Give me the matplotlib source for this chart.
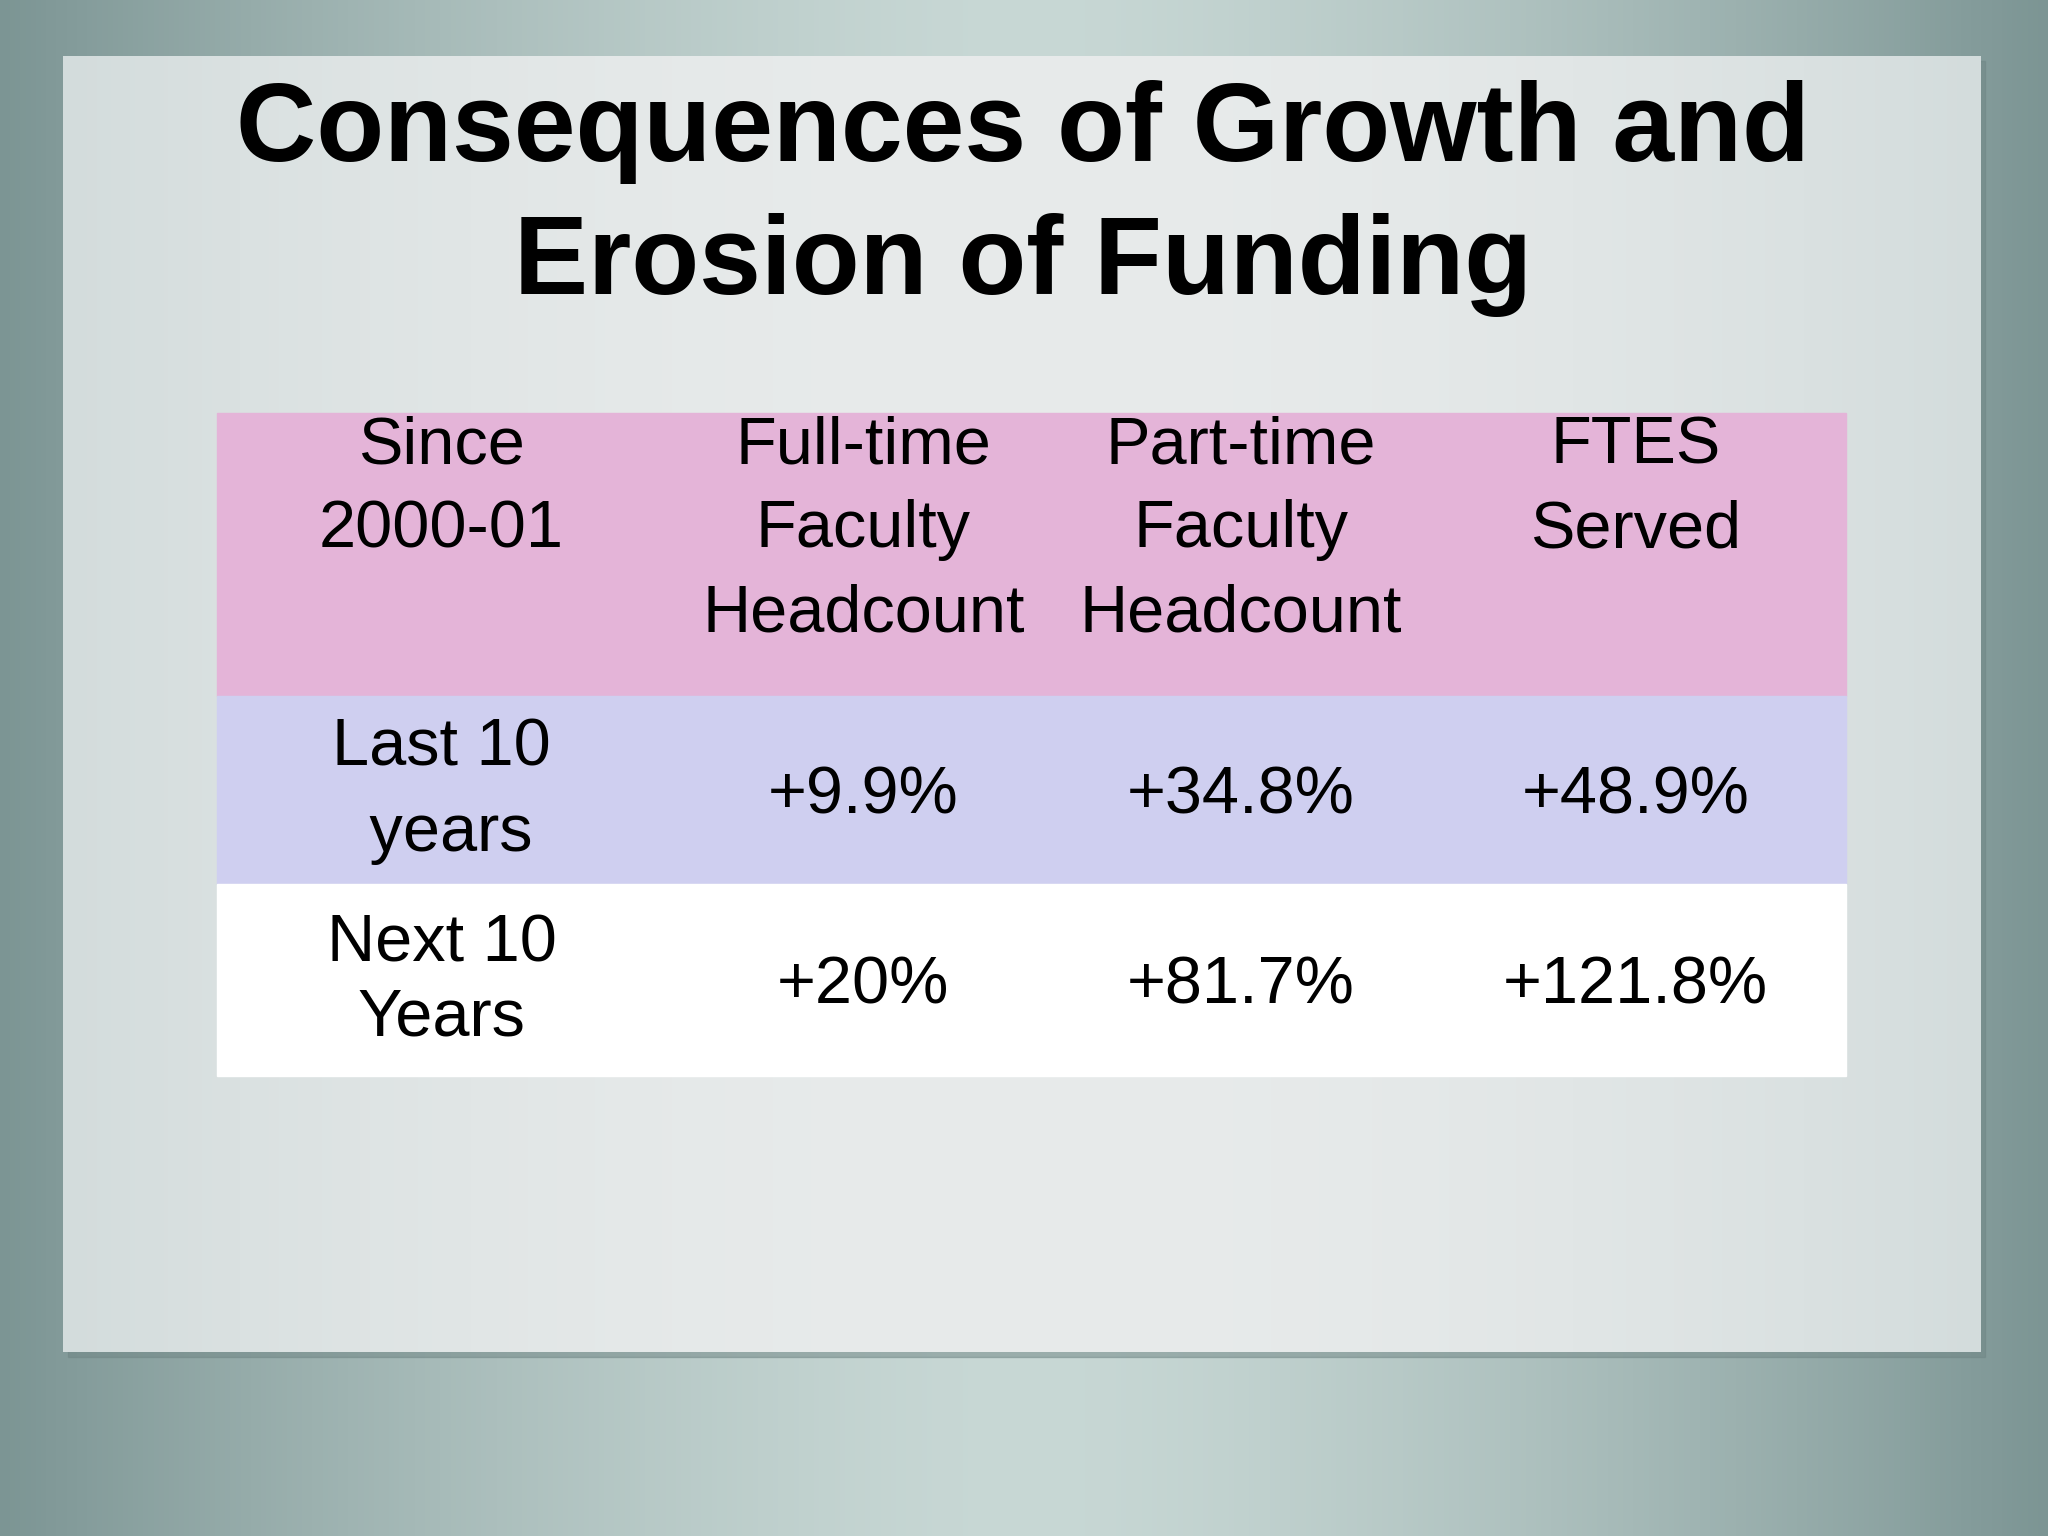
import numpy as np
import matplotlib.pyplot as plt
from matplotlib.patches import Rectangle

# Table contents
title = "Consequences of Growth and\nErosion of Funding"
headers = ["Since\n2000-01", "Full-time\nFaculty\nHeadcount", "Part-time\nFaculty\nHeadcount", "FTES\nServed"]
row_labels = ["Last 10\n years", "Next 10\nYears"]
full_time = ["+9.9%", "+20%"]
part_time = ["+34.8%", "+81.7%"]
ftes = ["+48.9%", "+121.8%"]

W, H = 1568, 1176
fig = plt.figure(figsize=(20.48, 15.36), dpi=100)
ax = fig.add_axes([0, 0, 1, 1])
ax.set_xlim(0, W)
ax.set_ylim(H, 0)
ax.axis('off')

# outer background: horizontal gradient dark edges, lighter center
xs = np.linspace(-1, 1, 400)
ys = np.linspace(0, 1, 300)
gx = 1 - np.abs(xs) ** 1.5
bg = np.outer(np.ones_like(ys), gx)
c_edge = np.array([0x7c, 0x95, 0x94]) / 255
c_mid = np.array([0xc8, 0xd8, 0xd5]) / 255
img = c_edge + bg[..., None] * (c_mid - c_edge)
ax.imshow(img, extent=[0, W, H, 0], aspect='auto', zorder=0)

# panel with shadow
ax.add_patch(Rectangle((52, 47), 1468, 992, color='#6f8584', alpha=0.5, zorder=1))
px = np.linspace(-1, 1, 400)
pg = 1 - np.abs(px) ** 2
p_edge = np.array([0xd3, 0xdc, 0xdc]) / 255
p_mid = np.array([0xe8, 0xeb, 0xeb]) / 255
pimg = p_edge + np.outer(np.ones(300), pg)[..., None] * (p_mid - p_edge)
ax.imshow(pimg, extent=[48, 1516, 1035, 43], aspect='auto', zorder=2)

ax.text(783, 152, title, ha='center', va='center', fontsize=80, fontweight='bold',
        family='Liberation Sans', linespacing=1.36, zorder=5)

# table
x0, x1 = 166, 1413
row_edges = [316, 533, 677, 824]
colors = ['#e4b4d8', '#cfcff0', '#ffffff']
for i, c in enumerate(colors):
    ax.add_patch(Rectangle((x0, row_edges[i]), x1 - x0, row_edges[i + 1] - row_edges[i],
                           color=c, zorder=3))

col_x = [338, 661, 950, 1252]
fs = 48
for cx, h in zip(col_x, headers):
    ax.text(cx, 318, h, ha='center', va='top', fontsize=fs, family='Liberation Sans',
            linespacing=1.46, zorder=5)

label_spacing = [1.48, 1.26]
for r, lab in enumerate(row_labels):
    cy = (row_edges[r + 1] + row_edges[r + 2]) / 2
    ax.text(col_x[0], cy + 1, lab, ha='center', va='center', fontsize=fs,
            family='Liberation Sans', linespacing=label_spacing[r], zorder=5)
    for cx, vals in zip(col_x[1:], [full_time, part_time, ftes]):
        ax.text(cx, cy + 5, vals[r], ha='center', va='center', fontsize=fs,
                family='Liberation Sans', zorder=5)

fig.savefig('out.png', dpi=100)
